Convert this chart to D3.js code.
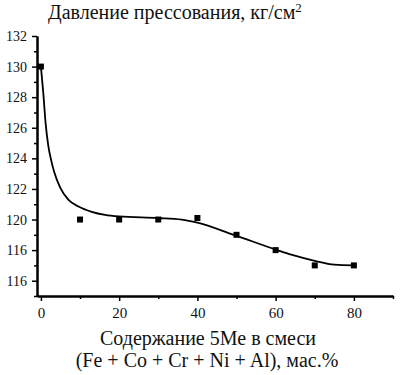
<!DOCTYPE html>
<html><head><meta charset="utf-8">
<script src="https://cdn.jsdelivr.net/npm/d3@7"></script>
<style>
body{margin:0;background:#fff;}
svg text{font-family:"Liberation Serif","Times New Roman",serif !important;fill:#111;}
</style></head>
<body><svg id="c" width="401" height="375" font-family="Liberation Serif, serif"></svg>
<script>
// data
const xValues = [0, 10, 20, 30, 40, 50, 60, 70, 80];
const yValues = [130, 120, 120, 120, 120.1, 119, 118, 117, 117];
// fitted curve
const fitX = [0, 0.6, 1.2, 1.9, 2.6, 3.4, 4.9, 7, 9.6, 13, 16.4, 20, 30, 36, 40, 49.3, 60.4, 64, 70, 75, 80];
const fitY = [130, 128.3, 126.3, 124.8, 123.9, 123.1, 122.1, 121.3, 120.85, 120.5, 120.3, 120.2, 120.1, 120.0, 119.8, 119.0, 118.0, 117.7, 117.3, 117.05, 117.0];
const yTickValues = [132, 130, 128, 126, 124, 122, 120, 118, 116];
const yTickLabels = ["132", "130", "128", "126", "124", "122", "120", "116", "116"];
const xTickValues = [0, 20, 40, 60, 80];
const xTickLabels = ["0", "20", "40", "60", "80"];
const xMinor = [10, 30, 50, 70, 90];
const yMinor = [131, 129, 127, 125, 123, 121, 119, 117, 115];
const titleText = "Давление прессования, кг/см";
const xTitle1 = "Содержание 5Ме в смеси";
const xTitle2 = "(Fe + Co + Cr + Ni + Al), мас.%";

const FONT = "Liberation Serif";
const svg = d3.select("#c");
const x = d3.scaleLinear().domain([-1, 90]).range([37, 393]);
const y = d3.scaleLinear().domain([115, 132]).range([296, 36]);

// axes
const xAxis = d3.axisBottom(x).tickValues(xTickValues).tickFormat((d,i)=>xTickLabels[i]).tickSize(5).tickSizeOuter(0);
const gx = svg.append("g").attr("transform", `translate(0,${y(115)})`).call(xAxis);
gx.attr("font-family", FONT);
gx.selectAll("text").attr("font-size", 15).attr("dy", "0").attr("y", 22).attr("fill","#111");
const xAxisMinor = d3.axisBottom(x).tickValues(xMinor).tickFormat("").tickSize(3).tickSizeOuter(0);
svg.append("g").attr("transform", `translate(0,${y(115)})`).call(xAxisMinor);

const yAxis = d3.axisLeft(y).tickValues(yTickValues).tickFormat((d,i)=>yTickLabels[i]).tickSize(5).tickSizeOuter(0);
const gy = svg.append("g").attr("transform", `translate(${x(-1)},0)`).call(yAxis);
gy.attr("font-family", FONT);
gy.selectAll("text").attr("font-size", 14).attr("x", -10).attr("fill","#111");
const yAxisMinor = d3.axisLeft(y).tickValues(yMinor).tickFormat("").tickSize(3).tickSizeOuter(0);
svg.append("g").attr("transform", `translate(${x(-1)},0)`).call(yAxisMinor);

svg.selectAll(".domain").attr("stroke", "#000").attr("stroke-width", 2);
svg.selectAll(".tick line").attr("stroke", "#000").attr("stroke-width", 1.5);

// fit curve
const line = d3.line().x((d,i)=>x(fitX[i])).y((d,i)=>y(fitY[i])).curve(d3.curveMonotoneX);
svg.append("path").datum(fitX).attr("d", line).attr("fill","none").attr("stroke","#000").attr("stroke-width",1.8);

// markers
const s = 6;
svg.selectAll("rect.pt").data(xValues).enter().append("rect").attr("class","pt")
  .attr("x", (d)=>x(d)-s/2).attr("y", (d,i)=>y(yValues[i])-s/2)
  .attr("width", s).attr("height", s).attr("fill", "#000");

// title
const t = svg.append("text").attr("x", 48).attr("y", 19).attr("font-size", 20).attr("font-family", FONT);
t.append("tspan").text(titleText);
t.append("tspan").attr("font-size", 13).attr("dy", -7).text("2");

// x title
svg.append("text").attr("x", 208).attr("y", 345).attr("text-anchor","middle").attr("font-size", 20).attr("font-family", FONT).text(xTitle1);
svg.append("text").attr("x", 207).attr("y", 367).attr("text-anchor","middle").attr("font-size", 20).attr("font-family", FONT).text(xTitle2);
</script></body></html>
